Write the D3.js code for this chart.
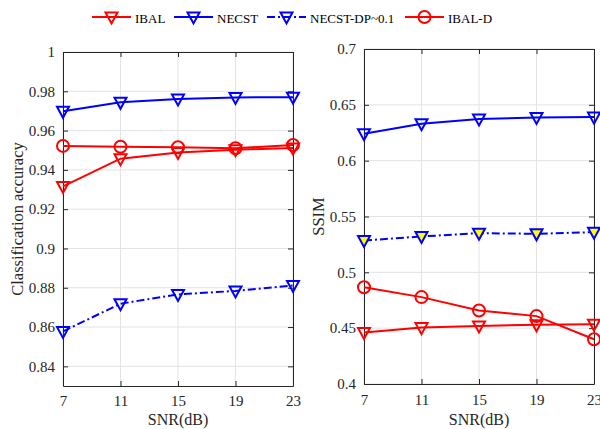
<!DOCTYPE html>
<html>
<head>
<meta charset="utf-8">
<script src="https://cdn.jsdelivr.net/npm/d3@7/dist/d3.min.js"></script>
<style>
  body { margin: 0; background: #fff; }
  svg { font-family: "Liberation Serif", "Times New Roman", serif; }
</style>
</head>
<body>
<script>
/* Data */

const snr = [7, 11, 15, 19, 23];

const accIBAL    = [0.9316, 0.9457, 0.9489, 0.9503, 0.9511];
const accNECST   = [0.9698, 0.9744, 0.9761, 0.9769, 0.9770];
const accNECSTDP = [0.8578, 0.8719, 0.8766, 0.8784, 0.8812];
const accIBALD   = [0.9522, 0.9518, 0.9515, 0.9510, 0.9527];

const ssimIBAL    = [0.4461, 0.4505, 0.4520, 0.4530, 0.4535];
const ssimNECST   = [0.6241, 0.6331, 0.6373, 0.6387, 0.6390];
const ssimNECSTDP = [0.5285, 0.5321, 0.5351, 0.5345, 0.5360];
const ssimIBALD   = [0.4867, 0.4778, 0.4658, 0.4608, 0.4401];

const accTicks  = [0.84, 0.86, 0.88, 0.9, 0.92, 0.94, 0.96, 0.98, 1];
const ssimTicks = [0.4, 0.45, 0.5, 0.55, 0.6, 0.65, 0.7];

const legendNames = ["IBAL", "NECST", "NECST-DP~0.1", "IBAL-D"];

/* Size */

const w = 600, h = 429;

const svg = d3.select("body")
  .append("svg")
  .attr("width", w)
  .attr("height", h);

const textColor = "#262626";

/* Series styles */

const styles = {
  IBAL:    { color: "#ff0000", marker: "tri", dash: null },
  NECST:   { color: "#0000ff", marker: "tri", dash: null },
  NECSTDP: { color: "#0000ff", marker: "tri", dash: "8,3,2,3" },
  IBALD:   { color: "#ff0000", marker: "circle", dash: null }
};

function drawMarker(g, type, x, y, color, fill) {
  if (type === "tri") {
    g.append("path")
      .attr("d", "M" + (x - 6) + "," + (y - 4.5) + "L" + (x + 6) + "," + (y - 4.5) + "L" + x + "," + (y + 6.5) + "Z")
      .attr("fill", fill)
      .attr("stroke", color)
      .attr("stroke-width", 2);
  } else {
    g.append("circle")
      .attr("cx", x).attr("cy", y).attr("r", 6)
      .attr("fill", fill)
      .attr("stroke", color)
      .attr("stroke-width", 2);
  }
}

/* Panel */

function panel(box, domain, ticks, series, yLabel) {
  const x = d3.scaleLinear().domain([7, 23]).range([box.left, box.right]);
  const y = d3.scaleLinear().domain(domain).range([box.bottom, box.top]);
  const g = svg.append("g");

  // grid
  g.append("g").selectAll("line").data(snr).enter().append("line")
    .attr("x1", d => x(d)).attr("x2", d => x(d))
    .attr("y1", box.top).attr("y2", box.bottom)
    .attr("stroke", "#e3e3e3").attr("stroke-width", 1);
  g.append("g").selectAll("line").data(ticks).enter().append("line")
    .attr("x1", box.left).attr("x2", box.right)
    .attr("y1", d => y(d)).attr("y2", d => y(d))
    .attr("stroke", "#e3e3e3").attr("stroke-width", 1);

  // axes
  const axisStyle = sel => {
    sel.select(".domain").attr("stroke", textColor).attr("stroke-width", 1);
    sel.selectAll(".tick line").attr("stroke", textColor);
    sel.selectAll(".tick text").attr("fill", textColor).attr("font-size", 15)
      .attr("font-family", "Liberation Serif, serif");
  };
  g.append("g").attr("transform", "translate(0," + box.bottom + ")")
    .call(d3.axisBottom(x).tickValues(snr).tickSizeInner(-5).tickSizeOuter(0).tickPadding(box.xPad))
    .call(axisStyle);
  g.append("g").attr("transform", "translate(0," + box.top + ")")
    .call(d3.axisTop(x).tickValues(snr).tickSizeInner(-5).tickSizeOuter(0).tickFormat(""))
    .call(axisStyle);
  g.append("g").attr("transform", "translate(" + box.left + ",0)")
    .call(d3.axisLeft(y).tickValues(ticks).tickSizeInner(-5).tickSizeOuter(0).tickPadding(8).tickFormat(d3.format("")))
    .call(axisStyle);
  g.append("g").attr("transform", "translate(" + box.right + ",0)")
    .call(d3.axisRight(y).tickValues(ticks).tickSizeInner(-5).tickSizeOuter(0).tickFormat(""))
    .call(axisStyle);

  // lines and markers
  series.forEach(s => {
    const st = styles[s.key];
    const line = d3.line().x((d, i) => x(snr[i])).y(d => y(d));
    g.append("path")
      .datum(s.values)
      .attr("d", line)
      .attr("fill", "none")
      .attr("stroke", st.color)
      .attr("stroke-width", 2)
      .attr("stroke-dasharray", st.dash);
    s.values.forEach((v, i) => drawMarker(g, st.marker, x(snr[i]), y(v), st.color, s.fill || "none"));
  });

  // labels
  g.append("text")
    .attr("x", (box.left + box.right) / 2).attr("y", h - 4)
    .attr("text-anchor", "middle").attr("font-size", 16).attr("fill", textColor)
    .text("SNR(dB)");
  g.append("text")
    .attr("transform", "translate(" + box.labelX + "," + (box.top + box.bottom) / 2 + ") rotate(-90)")
    .attr("text-anchor", "middle").attr("dominant-baseline", "central")
    .attr("font-size", 16.5).attr("fill", textColor)
    .text(yLabel);
}

panel({ left: 63, right: 293, top: 52, bottom: 386, labelX: 17, xPad: 9 }, [0.83, 1], accTicks,
  [
    { key: "NECSTDP", values: accNECSTDP },
    { key: "NECST", values: accNECST },
    { key: "IBAL", values: accIBAL },
    { key: "IBALD", values: accIBALD }
  ], "Classification accuracy");

panel({ left: 364, right: 594, top: 49, bottom: 384, labelX: 318, xPad: 10 }, [0.4, 0.7], ssimTicks,
  [
    { key: "NECSTDP", values: ssimNECSTDP, fill: "#ffff00" },
    { key: "NECST", values: ssimNECST },
    { key: "IBAL", values: ssimIBAL },
    { key: "IBALD", values: ssimIBALD }
  ], "SSIM");

/* Legend */

const legendKeys = ["IBAL", "NECST", "NECSTDP", "IBALD"];
const legendX = [92, 174, 267, 405];
const legend = svg.append("g").attr("id", "legend");
legendKeys.forEach((k, i) => {
  const st = styles[k];
  const x0 = legendX[i], ly = 17;
  legend.append("line")
    .attr("x1", x0).attr("x2", x0 + 39).attr("y1", ly).attr("y2", ly)
    .attr("stroke", st.color).attr("stroke-width", 2)
    .attr("stroke-dasharray", st.dash);
  drawMarker(legend, st.marker, x0 + 19.5, ly, st.color, "none");
  legend.append("text")
    .attr("x", x0 + 43).attr("y", ly + 1).attr("dominant-baseline", "central")
    .attr("font-size", 13).attr("fill", "#000")
    .text(legendNames[i]);
});
</script>
</body>
</html>
